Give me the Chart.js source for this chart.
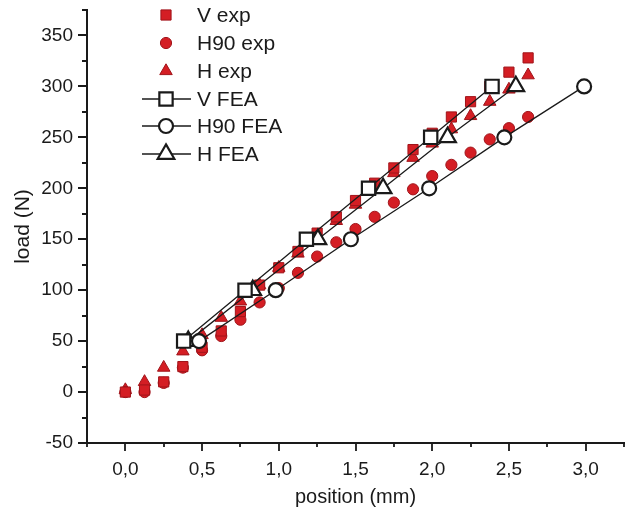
<!DOCTYPE html>
<html>
<head>
<meta charset="utf-8">
<script src="https://cdn.jsdelivr.net/npm/chart.js@4.4.0/dist/chart.umd.min.js"></script>
<style>
    html, body { margin: 0; padding: 0; background: #fff; }
    #wrap { width: 627px; height: 516px; }
</style>
</head>
<body>
<div id="wrap"><canvas id="loadChart" width="627" height="516"></canvas></div>
<script>
// experimental points share one set of positions (mm)
const expPosition = [0, 0.125, 0.25, 0.375, 0.5, 0.625, 0.75, 0.875, 1.0, 1.125, 1.25,
    1.375, 1.5, 1.625, 1.75, 1.875, 2.0, 2.125, 2.25, 2.375, 2.5, 2.625];
const vExpLoad   = [0, 2, 10, 25, 44, 60, 79, 105, 122, 138, 156, 172, 188, 205, 220, 238, 254, 270, 285, 300, 314, 328];
const h90ExpLoad = [0, 0, 9, 24, 41, 55, 71, 88, 102, 117, 133, 147, 160, 172, 186, 199, 212, 223, 235, 248, 259, 270];
const hExpLoad   = [2, 10, 24, 40, 56, 73, 89, 105, 122, 136, 153, 168, 184, 200, 215, 230, 244, 258, 271, 285, 297, 311];

// FEA curves
const feaLoad = [50, 100, 150, 200, 250, 300];
const vFeaPosition   = [0.38, 0.78, 1.18, 1.585, 1.99, 2.39];
const h90FeaPosition = [0.48, 0.98, 1.47, 1.98, 2.47, 2.99];
const hFeaPosition   = [0.41, 0.83, 1.255, 1.68, 2.10, 2.545];

const xMajorTicks = [0, 0.5, 1.0, 1.5, 2.0, 2.5, 3.0];
const yMajorTicks = [-50, 0, 50, 100, 150, 200, 250, 300, 350];

const RED = 'rgb(212, 30, 36)';
const RED_EDGE = 'rgb(160, 20, 26)';
const INK = '#1a1a1a';
const FONT = "'Liberation Sans', Arial, sans-serif";

function toPoints(xs, ys) {
    return xs.map((x, i) => ({ x: x, y: ys[i] }));
}

function expSet(label, ys, style, radius) {
    return {
        label: label,
        data: toPoints(expPosition, ys),
        showLine: false,
        pointStyle: style,
        pointRadius: radius,
        pointBackgroundColor: RED,
        pointBorderColor: RED_EDGE,
        pointBorderWidth: 1,
        order: 1
    };
}

function feaSet(label, xs, style, radius) {
    return {
        label: label,
        data: toPoints(xs, feaLoad),
        showLine: true,
        borderColor: INK,
        borderWidth: 1.3,
        pointStyle: style,
        pointRadius: radius,
        pointBackgroundColor: '#fff',
        pointBorderColor: INK,
        pointBorderWidth: 2.2,
        order: 0
    };
}

const datasets = [
    expSet('V exp', vExpLoad, 'rect', 7.2),
    expSet('H90 exp', h90ExpLoad, 'circle', 5.6),
    expSet('H exp', hExpLoad, 'triangle', 7.2),
    feaSet('V FEA', vFeaPosition, 'rect', 9.4),
    feaSet('H90 FEA', h90FeaPosition, 'circle', 7),
    feaSet('H FEA', hFeaPosition, 'triangle', 9.6)
];

// axis ticks, major and minor, pointing outward
const tickPlugin = {
    id: 'tickMarks',
    afterDraw(chart) {
        const ctx = chart.ctx;
        const xs = chart.scales.x, ys = chart.scales.y;
        const area = chart.chartArea;
        ctx.save();
        ctx.strokeStyle = INK;
        ctx.lineWidth = 1.8;
        ctx.beginPath();
        for (let v = -0.25; v <= 3.2501; v += 0.25) {
            const px = Math.round(xs.getPixelForValue(v));
            const major = Math.abs(v * 2 - Math.round(v * 2)) < 1e-6;
            ctx.moveTo(px, area.bottom);
            ctx.lineTo(px, area.bottom + (major ? 8 : 4));
        }
        for (let v = -50; v <= 375; v += 25) {
            const py = Math.round(ys.getPixelForValue(v));
            const major = v % 50 === 0;
            ctx.moveTo(area.left, py);
            ctx.lineTo(area.left - (major ? 9 : 5), py);
        }
        ctx.stroke();
        ctx.restore();
    }
};

// legend in the top left corner
const legendPlugin = {
    id: 'cornerLegend',
    afterDraw(chart) {
        const ctx = chart.ctx;
        const rowY = [15, 43, 71, 99, 126, 154];
        const markX = 166, textX = 197;
        ctx.save();
        ctx.font = '21px ' + FONT;
        ctx.textBaseline = 'middle';
        ctx.textAlign = 'left';
        chart.data.datasets.forEach((ds, i) => {
            const y = rowY[i];
            if (ds.showLine) {
                ctx.strokeStyle = INK;
                ctx.lineWidth = 1.3;
                ctx.beginPath();
                ctx.moveTo(142, y);
                ctx.lineTo(191, y);
                ctx.stroke();
            }
            ctx.fillStyle = ds.pointBackgroundColor;
            ctx.strokeStyle = ds.pointBorderColor;
            ctx.lineWidth = ds.pointBorderWidth;
            Chart.helpers.drawPoint(ctx, {
                pointStyle: ds.pointStyle,
                radius: ds.pointRadius,
                rotation: 0,
                borderWidth: ds.pointBorderWidth
            }, markX, y);
            ctx.fillStyle = '#1a1a1a';
            ctx.fillText(ds.label, textX, y + 1);
        });
        ctx.restore();
    }
};

new Chart(document.getElementById('loadChart'), {
    type: 'scatter',
    data: { datasets: datasets },
    options: {
        responsive: false,
        animation: false,
        devicePixelRatio: 1,
        layout: { autoPadding: false, padding: { top: 10, right: 3, left: 0, bottom: 0 } },
        plugins: {
            legend: { display: false },
            tooltip: { enabled: false }
        },
        scales: {
            x: {
                type: 'linear',
                min: -0.25,
                max: 3.25,
                afterBuildTicks: scale => { scale.ticks = xMajorTicks.map(v => ({ value: v })); },
                afterFit: scale => {
                    scale.height = 73;
                    scale.paddingLeft = 0;
                    scale.paddingRight = 0;
                },
                grid: { display: false },
                border: { display: true, color: INK, width: 2 },
                ticks: {
                    padding: 7,
                    color: '#1a1a1a',
                    font: { family: FONT, size: 19 },
                    callback: v => v.toFixed(1).replace('.', ',')
                },
                title: {
                    display: true,
                    text: 'position (mm)',
                    color: '#1a1a1a',
                    font: { family: FONT, size: 20 },
                    padding: { top: 0, bottom: 7 }
                }
            },
            y: {
                type: 'linear',
                min: -50,
                max: 375,
                afterBuildTicks: scale => { scale.ticks = yMajorTicks.map(v => ({ value: v })); },
                afterFit: scale => {
                    scale.width = 87;
                    scale.paddingTop = 0;
                    scale.paddingBottom = 0;
                },
                grid: { display: false },
                border: { display: true, color: INK, width: 2 },
                ticks: {
                    padding: 6,
                    color: '#1a1a1a',
                    font: { family: FONT, size: 19 }
                },
                title: {
                    display: true,
                    text: 'load (N)',
                    color: '#1a1a1a',
                    font: { family: FONT, size: 21 },
                    padding: { top: 11, bottom: 0 }
                }
            }
        }
    },
    plugins: [tickPlugin, legendPlugin]
});
</script>
</body>
</html>
